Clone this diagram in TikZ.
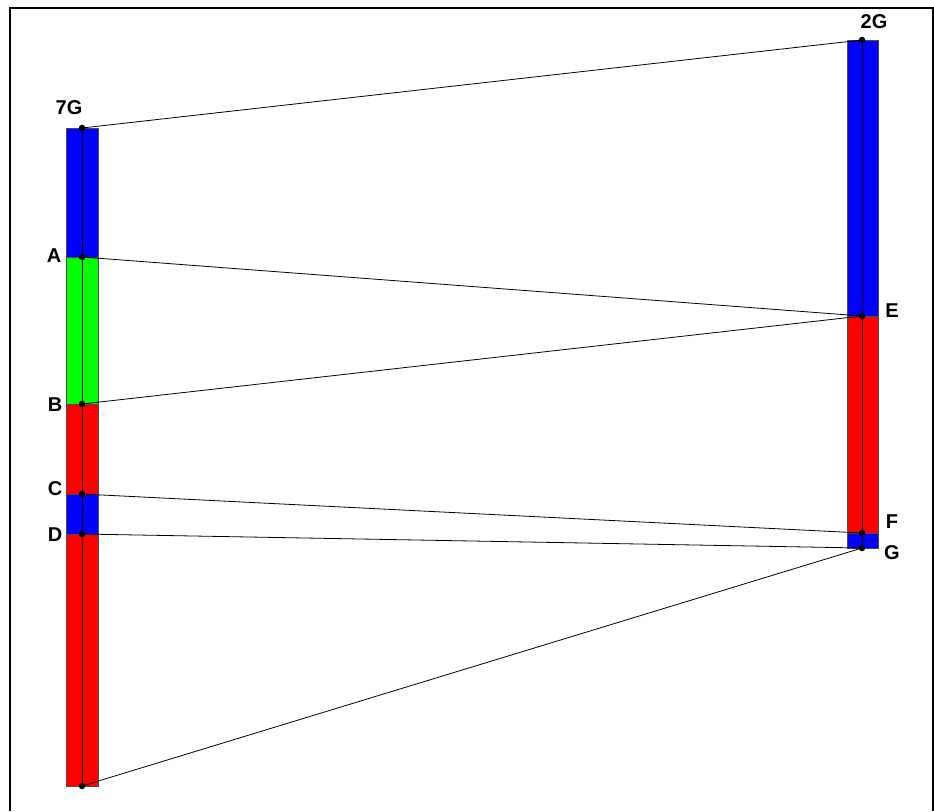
\documentclass[tikz,border=0pt]{standalone}
\usepackage{fontspec}
\setmainfont{Liberation Sans}
\begin{document}
\begin{tikzpicture}[x=1pt,y=-1pt,
  seg/.style={draw=black!70, line width=0.8pt},
  axisline/.style={draw=black, line width=1pt},
  link/.style={draw=black, line width=0.8pt},
  dot/.style={circle, fill=black, inner sep=0pt, minimum size=6.5pt},
  lbl/.style={font=\fontsize{20}{20}\selectfont\bfseries, inner sep=0pt}]
\useasboundingbox (0,0) rectangle (934,811);
\draw[line width=1.6pt] (10,811) -- (10,8) -- (933,8) -- (933,811);
% left bar
\fill[blue]  (66,128) rectangle (98,257);
\fill[green] (66,257) rectangle (98,404);
\fill[red]   (66,404) rectangle (98,494);
\fill[blue]  (66,494) rectangle (98,534);
\fill[red]   (66,534) rectangle (98,786);
\draw[seg] (66,128) rectangle (98,786);
\foreach \y in {257,404,494,534} \draw[seg] (66,\y) -- (98,\y);
% right bar
\fill[blue] (847,40) rectangle (878,316);
\fill[red]  (847,316) rectangle (878,533);
\fill[blue] (847,533) rectangle (878,548);
\draw[seg] (847,40) rectangle (878,548);
\foreach \y in {316,533} \draw[seg] (847,\y) -- (878,\y);
% points
\node[dot] (L0) at (82,128) {};
\node[dot] (A) at (82,257) {};
\node[dot] (B) at (82,404) {};
\node[dot] (C) at (82,494) {};
\node[dot] (D) at (82,534) {};
\node[dot] (L1) at (82,786) {};
\node[dot] (R0) at (862,40) {};
\node[dot] (E) at (862,316) {};
\node[dot] (F) at (862,533) {};
\node[dot] (G) at (862,548) {};
\draw[axisline] (L0.center) -- (L1.center);
\draw[axisline] (R0.center) -- (G.center);
% links
\draw[link] (L0.center) -- (R0.center);
\draw[link] (A.center) -- (E.center);
\draw[link] (B.center) -- (E.center);
\draw[link] (C.center) -- (F.center);
\draw[link] (D.center) -- (G.center);
\draw[link] (L1.center) -- (G.center);
% labels
\node[lbl] (t7G) at (69,108) {7G};
\node[lbl] (t2G) at (874,22) {2G};
\node[lbl] (tA) at (54,256) {A};
\node[lbl] (tB) at (55,405) {B};
\node[lbl] (tC) at (55,489) {C};
\node[lbl] (tD) at (55,535) {D};
\node[lbl] (tE) at (892,311) {E};
\node[lbl] (tF) at (892,522) {F};
\node[lbl] (tG) at (892,553) {G};
\end{tikzpicture}
\end{document}
